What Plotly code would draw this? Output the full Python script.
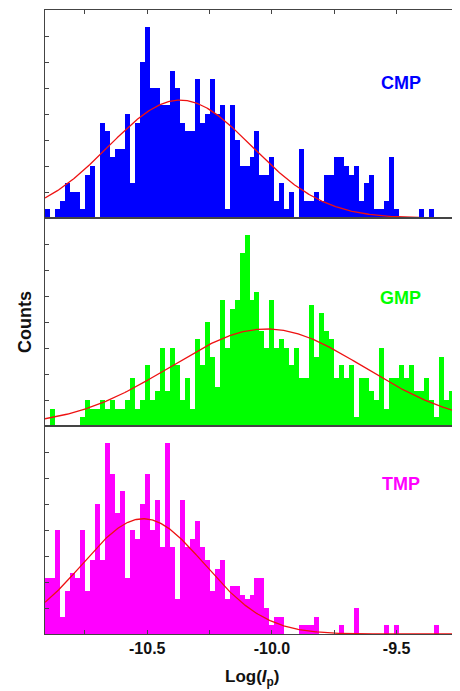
import numpy as np
import plotly.graph_objects as go
from plotly.subplots import make_subplots

# bin centres (width 0.02) from -10.90 to -9.26
bin_centers = [round(-10.90 + 0.02 * i, 2) for i in range(83)]
bin_width = 0.02

cmp_counts = [1, 0, 1, 2, 4, 3, 3, 1, 5, 6, 0, 11, 10, 7, 8, 8, 12, 4, 11, 18,
              22, 15, 15, 13, 13, 17, 15, 11, 10, 10, 16, 11, 12, 16, 12, 13, 1, 13, 9, 6,
              6, 7, 10, 5, 5, 7, 2, 4, 1, 3, 0, 8, 2, 2, 3, 2, 5, 5, 7, 7,
              6, 5, 6, 2, 4, 5, 1, 1, 2, 7, 1, 0, 0, 0, 0, 1, 0, 1, 0, 0,
              0, 0, 1]
gmp_counts = [0, 2, 0, 0, 0, 0, 0, 1, 3, 2, 2, 3, 2, 3, 2, 2, 3, 5.5, 2, 3,
              7, 3, 4, 9, 4, 9, 7, 3, 5.5, 2, 10, 7, 12, 8, 4.5, 14.5, 9, 13.5, 14.5, 20,
              22, 14.5, 15.5, 11, 9, 14.5, 9, 10, 9, 7, 9, 5.5, 5.5, 14, 8, 13, 11, 10, 5.5, 7,
              5.5, 7, 1, 5.5, 5.5, 4, 3, 9, 2, 5.5, 5.5, 7, 5.5, 7, 4, 4, 5.5, 3, 1, 8,
              3, 4, 2]
tmp_counts = [6.5, 6.5, 12, 2, 5, 7, 6.5, 12, 5, 8.5, 15, 8.5, 22, 18.5, 14, 16.5, 6.5, 12, 11, 15,
              18.5, 12, 15.5, 10, 22, 10, 4, 15.5, 10, 11, 13, 10, 8.5, 5, 7.5, 8.5, 4, 5.5, 5.5, 4.5,
              4, 4.5, 6.5, 6.5, 3, 1, 2, 2, 0, 0, 0, 1, 1, 1, 2, 0, 0, 0, 0, 1,
              0, 0, 3, 0, 0, 0, 0, 0, 1, 0, 1, 0, 0, 0, 0, 0, 0, 0, 1, 0,
              0, 0, 0]

# Gaussian fit parameters: (amplitude, centre, sigma)
fit_params = {
    "CMP": (13.6, -10.368, 0.288),
    "GMP": (11.2, -10.021, 0.39),
    "TMP": (13.3, -10.516, 0.245),
}
series_names = ["CMP", "GMP", "TMP"]
series_colors = ["#0000FF", "#00FF00", "#FF00FF"]
series_counts = [cmp_counts, gmp_counts, tmp_counts]
label_pos = [(-9.484, 15.6), (-9.484, 14.8), (-9.484, 17.3)]

x_tickvals = [-10.5, -10.0, -9.5]
x_ticktext = ["-10.5", "-10.0", "-9.5"]
x_minor_tickvals = [-10.75, -10.25, -9.75]
x_range = [-10.91, -9.25]
y_range = [0, 24]

FONT = "Liberation Sans, Arial"

fig = make_subplots(rows=3, cols=1, shared_xaxes=True, vertical_spacing=0)

xfit = np.linspace(x_range[0], x_range[1], 400)
for r, (name, col, counts) in enumerate(zip(series_names, series_colors, series_counts), start=1):
    fig.add_trace(go.Bar(x=bin_centers, y=counts, width=bin_width,
                         marker=dict(color=col, line=dict(width=0)),
                         showlegend=False), row=r, col=1)
    a, mu, s = fit_params[name]
    fig.add_trace(go.Scatter(x=xfit, y=a * np.exp(-(xfit - mu) ** 2 / (2 * s ** 2)),
                             mode="lines", line=dict(color="#EE1111", width=1.3),
                             showlegend=False, hoverinfo="skip"), row=r, col=1)
    lx, ly = label_pos[r - 1]
    yref = "y" if r == 1 else f"y{r}"
    xref = "x" if r == 1 else f"x{r}"
    fig.add_annotation(x=lx, y=ly, xref=xref, yref=yref, text=f"<b>{name}</b>",
                       showarrow=False, xanchor="center", yanchor="middle",
                       font=dict(family=FONT, size=18, color=col))

axis_col = "#444444"
for r in range(1, 4):
    fig.update_yaxes(range=y_range, showline=True, linecolor=axis_col, linewidth=1, mirror=True,
                     ticks="inside", ticklen=4, tickcolor=axis_col, dtick=3, tick0=0,
                     showticklabels=False, showgrid=False, zeroline=False, row=r, col=1)
    fig.update_xaxes(range=x_range, showline=True, linecolor=axis_col, linewidth=1, mirror=True,
                     showgrid=False, zeroline=False, row=r, col=1)

minor_ticks = dict(tickmode="array", tickvals=x_minor_tickvals, ticks="inside", ticklen=4,
                   tickcolor=axis_col, showgrid=False)
# top ticks on first panel
fig.update_xaxes(side="top", ticks="inside", ticklen=4, tickcolor=axis_col,
                 tickmode="array", tickvals=x_tickvals, showticklabels=False,
                 minor=minor_ticks, row=1, col=1)
fig.update_xaxes(ticks="", showticklabels=False, row=2, col=1)
fig.update_xaxes(ticks="inside", ticklen=4, tickcolor=axis_col, tickmode="array",
                 tickvals=x_tickvals, ticktext=x_ticktext, showticklabels=True,
                 minor=minor_ticks,
                 tickfont=dict(family=FONT, size=16, color="#111111", weight="bold"),
                 row=3, col=1)

# right-side ticks (every 6) via overlay axes
for r, (ya, xa) in enumerate([("y", "x"), ("y2", "x2"), ("y3", "x3")], start=4):
    name = f"yaxis{r}"
    fig.update_layout(**{name: dict(overlaying=ya, anchor=xa, side="right", range=y_range,
                                    dtick=6, tick0=0, ticks="inside", ticklen=4, tickcolor=axis_col,
                                    showticklabels=False, showgrid=False, zeroline=False, showline=False)})
    fig.add_trace(go.Scatter(x=[x_range[0]], y=[0], mode="markers", marker=dict(opacity=0),
                             xaxis=xa, yaxis=f"y{r}", showlegend=False, hoverinfo="skip"))

fig.add_annotation(x=-0.0483, y=0.5, xref="paper", yref="paper", text="<b>Counts</b>",
                   textangle=-90, showarrow=False, xanchor="center", yanchor="middle",
                   font=dict(family=FONT, size=18, color="#111111"))
fig.add_annotation(x=0.5, y=-0.0705, xref="paper", yref="paper",
                   text="<b>Log(<i>I</i><sub>p</sub>)</b>", showarrow=False,
                   xanchor="center", yanchor="middle",
                   font=dict(family=FONT, size=17, color="#111111"))

# the page body adds an 8px offset, so the figure is sized to fit the 460x691 window
fig.update_layout(width=452, height=683, margin=dict(l=37, r=1, t=2, b=57),
                  plot_bgcolor="white", paper_bgcolor="white", bargap=0)

fig.write_html("out.html")
